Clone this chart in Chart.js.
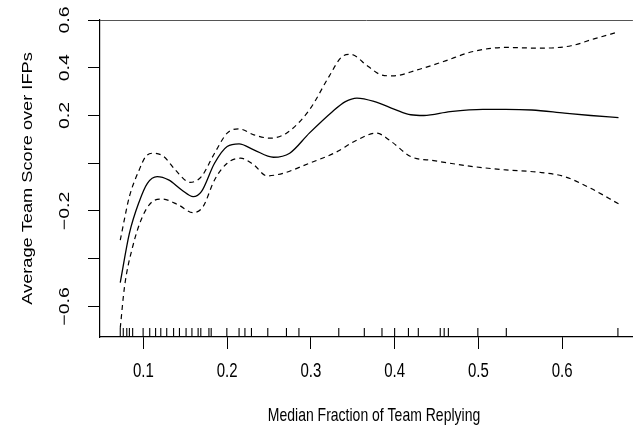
<!DOCTYPE html>
<html>
<head>
<meta charset="utf-8">
<script src="https://cdn.jsdelivr.net/npm/chart.js@4.4.1/dist/chart.umd.min.js"></script>
<style>
  html, body { margin: 0; padding: 0; background: #fff; }
</style>
</head>
<body>
<canvas id="myChart" width="643" height="429"></canvas>
<script>
// smooth fit and its confidence band
var fitX = [0.0723, 0.0832, 0.0949, 0.1047, 0.1164, 0.130, 0.1457, 0.1594, 0.1692, 0.1849, 0.200, 0.2142, 0.2318, 0.2552, 0.2747, 0.2981, 0.3256, 0.3412, 0.3549, 0.3763, 0.400, 0.4193, 0.4349, 0.4662, 0.5053, 0.5326, 0.5639, 0.6029, 0.6342, 0.6674];
var fitY = [-0.50, -0.294, -0.161, -0.084, -0.056, -0.070, -0.112, -0.140, -0.119, 0.0, 0.070, 0.081, 0.056, 0.025, 0.042, 0.126, 0.216, 0.258, 0.273, 0.258, 0.226, 0.203, 0.200, 0.216, 0.226, 0.226, 0.223, 0.210, 0.200, 0.191];

var upperX = [0.0723, 0.0832, 0.0949, 0.1027, 0.1125, 0.1242, 0.138, 0.1556, 0.1692, 0.1849, 0.200, 0.2142, 0.2318, 0.2512, 0.2708, 0.2981, 0.3216, 0.3373, 0.3474, 0.3685, 0.3842, 0.3978, 0.4271, 0.4584, 0.4936, 0.5326, 0.5717, 0.6108, 0.6381, 0.6674];
var upperY = [-0.322, -0.140, -0.028, 0.028, 0.042, 0.028, -0.028, -0.080, -0.056, 0.042, 0.126, 0.144, 0.119, 0.105, 0.126, 0.223, 0.363, 0.447, 0.456, 0.405, 0.370, 0.366, 0.391, 0.426, 0.468, 0.485, 0.482, 0.492, 0.521, 0.550];

var lowerX = [0.0723, 0.0774, 0.0871, 0.0988, 0.1106, 0.1223, 0.1419, 0.1594, 0.1712, 0.1849, 0.200, 0.216, 0.2318, 0.2474, 0.2669, 0.2981, 0.3294, 0.3529, 0.3783, 0.3959, 0.4193, 0.4467, 0.4936, 0.5326, 0.5756, 0.6029, 0.6342, 0.6674];
var lowerY = [-0.69, -0.517, -0.350, -0.224, -0.161, -0.150, -0.175, -0.207, -0.182, -0.070, 0.0, 0.021, -0.007, -0.053, -0.042, 0.0, 0.045, 0.093, 0.126, 0.091, 0.028, 0.011, -0.014, -0.028, -0.039, -0.056, -0.105, -0.170];

// rug of observed x values
var rugX = [0.0723, 0.0759, 0.0801, 0.0832, 0.0871, 0.0996, 0.1075, 0.1145, 0.1207, 0.1278, 0.1360, 0.1430, 0.1509, 0.1579, 0.1653, 0.1685, 0.1782, 0.1809, 0.1996, 0.2142, 0.2212, 0.2290, 0.2485, 0.2708, 0.2857, 0.3333, 0.3638, 0.3849, 0.4000, 0.4165, 0.4283, 0.4545, 0.4592, 0.4642, 0.4994, 0.5334, 0.6667];

var xTicks = [0.1, 0.2, 0.3, 0.4, 0.5, 0.6];
var yTicks = [-0.6, -0.4, -0.2, 0.0, 0.2, 0.4, 0.6];
var yLabels = [-0.6, -0.2, 0.2, 0.4, 0.6];

var xTitle = 'Median Fraction of Team Replying';
var yTitle = 'Average Team Score over IFPs';

var xMin = 0.0481, xMax = 0.6846;
var yMin = -0.728, yMax = 0.6;

var FONT = "'Liberation Sans', Arial, Helvetica, sans-serif";
var STRETCH = 1.3;   // the source picture is taller than it is wide

function pts(xs, ys) {
    var out = [];
    for (var i in xs) out.push({x: xs[i], y: ys[i]});
    return out;
}
function fmt(v) {
    var s = Math.abs(v).toFixed(1);
    return v < 0 ? '\u2212' + s : s;
}
function text(ctx, s, x, y, rot) {
    ctx.save();
    ctx.translate(x, y);
    ctx.scale(1, STRETCH);
    ctx.rotate(rot);
    ctx.fillText(s, 0, 0);
    ctx.restore();
}

// R-style labels (rotated y labels, centred titles) and the top edge of the box
var extras = {
    id: 'extras',
    afterDraw: function(chart) {
        var ctx = chart.ctx;
        var xs = chart.scales.x;
        var ys = chart.scales.y;
        var area = chart.chartArea;
        ctx.save();
        ctx.strokeStyle = '#555';
        ctx.lineWidth = 1;
        ctx.beginPath();
        ctx.moveTo(area.left, area.top + 0.5);
        ctx.lineTo(area.right, area.top + 0.5);
        ctx.stroke();

        ctx.fillStyle = '#000';
        ctx.textAlign = 'center';
        ctx.textBaseline = 'middle';
        ctx.font = '15px ' + FONT;
        for (var i in yLabels) {
            text(ctx, fmt(yLabels[i]), 65, ys.getPixelForValue(yLabels[i]), -Math.PI / 2);
        }
        for (var j in xTicks) {
            text(ctx, xTicks[j].toFixed(1), xs.getPixelForValue(xTicks[j]), 372, 0);
        }
        ctx.font = '14px ' + FONT;
        text(ctx, xTitle, 374, 416, 0);
        text(ctx, yTitle, 28, (area.top + area.bottom) / 2, -Math.PI / 2);
        ctx.restore();
    }
};

var ctx = 'myChart';
var chart = new Chart(ctx, {
    type: 'scatter',
    data: {
        datasets: [
            {
                label: 'fit',
                data: pts(fitX, fitY),
                showLine: true,
                borderColor: '#000',
                borderWidth: 1.3,
                pointRadius: 0,
                cubicInterpolationMode: 'monotone'
            },
            {
                label: 'upper',
                data: pts(upperX, upperY),
                showLine: true,
                borderColor: '#000',
                borderWidth: 1.2,
                borderDash: [5, 4],
                pointRadius: 0,
                cubicInterpolationMode: 'monotone'
            },
            {
                label: 'lower',
                data: pts(lowerX, lowerY),
                showLine: true,
                borderColor: '#000',
                borderWidth: 1.2,
                borderDash: [5, 4],
                pointRadius: 0,
                cubicInterpolationMode: 'monotone'
            },
            {
                label: 'rug',
                data: rugX.map(function(v) { return {x: v, y: yMin}; }),
                showLine: false,
                pointStyle: 'line',
                rotation: 90,
                pointRadius: 9,
                borderColor: '#000',
                borderWidth: 1.1,
                backgroundColor: '#000'
            }
        ]
    },
    options: {
        responsive: false,
        animation: false,
        devicePixelRatio: 1,
        layout: { padding: { top: 20, right: 0, left: 0, bottom: 0 } },
        plugins: {
            legend: { display: false },
            tooltip: { enabled: false }
        },
        scales: {
            x: {
                type: 'linear',
                min: xMin,
                max: xMax,
                afterBuildTicks: function(scale) {
                    scale.ticks = xTicks.map(function(v) { return {value: v}; });
                },
                afterFit: function(scale) { scale.height = 92; },
                grid: { drawOnChartArea: false, drawTicks: true, tickLength: 12, color: '#000', lineWidth: 1 },
                border: { display: true, color: '#000', width: 1.2 },
                ticks: { display: false }
            },
            y: {
                type: 'linear',
                min: yMin,
                max: yMax,
                afterBuildTicks: function(scale) {
                    scale.ticks = yTicks.map(function(v) { return {value: v}; });
                },
                afterFit: function(scale) { scale.width = 100; },
                grid: { drawOnChartArea: false, drawTicks: true, tickLength: 12, color: '#000', lineWidth: 1 },
                border: { display: true, color: '#000', width: 1.2 },
                ticks: { display: false }
            }
        }
    },
    plugins: [extras]
});
</script>
</body>
</html>
